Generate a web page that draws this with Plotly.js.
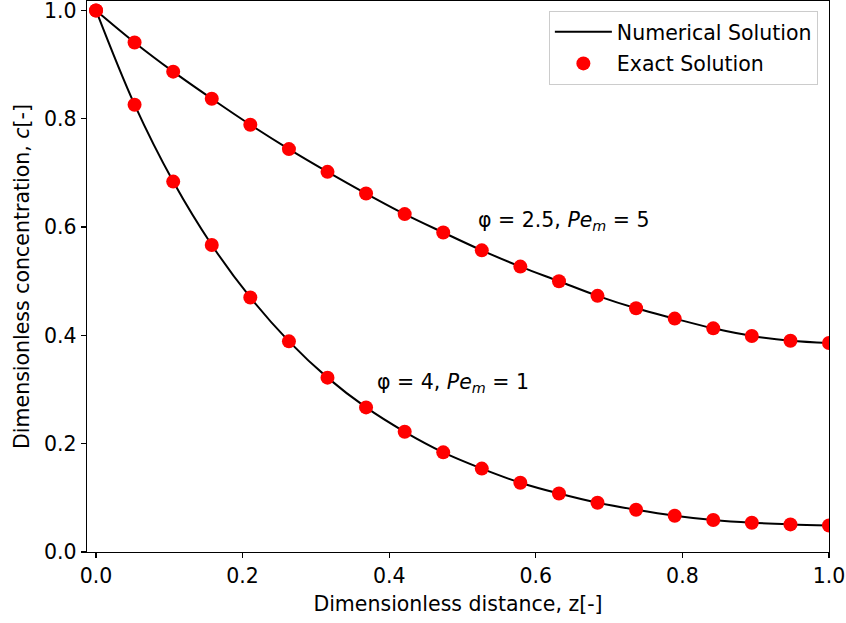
<!DOCTYPE html>
<html>
<head>
<meta charset="utf-8">
<script src="https://cdn.plot.ly/plotly-3.0.1.min.js"></script>
<style>
  html, body { margin: 0; padding: 0; background: #ffffff; }
  #chart { width: 846px; height: 623px; }
</style>
</head>
<body>
<div id="chart"></div>
<script>
// Dimensionless distance along the reactor, z[-]
const z = [0.0, 0.0526, 0.1053, 0.1579, 0.2105, 0.2632, 0.3158, 0.3684, 0.4211, 0.4737,
           0.5263, 0.5789, 0.6316, 0.6842, 0.7368, 0.7895, 0.8421, 0.8947, 0.9474, 1.0];

// Concentration profile for phi = 2.5, Pe_m = 5
const cCaseA = [1.000, 0.941, 0.887, 0.837, 0.789, 0.744, 0.702, 0.662, 0.624, 0.590,
                0.557, 0.527, 0.500, 0.473, 0.450, 0.431, 0.413, 0.399, 0.390, 0.386];

// Concentration profile for phi = 4, Pe_m = 1
const cCaseB = [1.000, 0.826, 0.684, 0.567, 0.470, 0.389, 0.322, 0.267, 0.222, 0.184,
                0.154, 0.128, 0.108, 0.091, 0.078, 0.067, 0.059, 0.054, 0.051, 0.049];

const caseLabels = ['φ = 2.5, <i>Pe<sub>m</sub></i> = 5', 'φ = 4, <i>Pe<sub>m</sub></i> = 1'];
const caseLabelPos = [[0.518, 0.612], [0.381, 0.312]];
const seriesNames = ['Numerical Solution', 'Exact Solution'];
const xTicks = [0.0, 0.2, 0.4, 0.6, 0.8, 1.0];
const yTicks = [0.0, 0.2, 0.4, 0.6, 0.8, 1.0];

const FONT = 'DejaVu Sans, sans-serif';
const FS = 20.5;

function lineTrace(y, show) {
  return {
    x: z, y: y, type: 'scatter', mode: 'lines',
    name: seriesNames[0], legendgroup: 'num', showlegend: show,
    line: { color: '#000000', width: 2, shape: 'spline', smoothing: 1 },
    hoverinfo: 'skip'
  };
}
function pointTrace(y, show) {
  return {
    x: z, y: y, type: 'scatter', mode: 'markers',
    name: seriesNames[1], legendgroup: 'exact', showlegend: show,
    marker: { color: '#ff0000', size: 14, line: { width: 0 } }
  };
}

const data = [
  lineTrace(cCaseA, true),
  lineTrace(cCaseB, false),
  pointTrace(cCaseA, true),
  pointTrace(cCaseB, false)
];

const axisCommon = {
  showgrid: false, zeroline: false,
  showline: true, linecolor: '#000000', linewidth: 1.3, mirror: true,
  ticks: 'outside', ticklen: 5, tickwidth: 1.2, tickcolor: '#000000',
  tickfont: { family: FONT, size: FS, color: '#000000' },
  tickformat: '.1f',
  ticklabeloverflow: 'allow'
};

const layout = {
  width: 846, height: 623,
  paper_bgcolor: '#ffffff', plot_bgcolor: '#ffffff',
  margin: { l: 87, r: 17, t: 1, b: 71 },
  font: { family: FONT, size: FS, color: '#000000' },
  xaxis: Object.assign({}, axisCommon, {
    range: [-0.0123, 1.0],
    tickvals: xTicks,
    title: { text: 'Dimensionless distance, z[-]', font: { family: FONT, size: FS }, standoff: 9 }
  }),
  yaxis: Object.assign({}, axisCommon, {
    range: [0, 1.0175],
    tickvals: yTicks,
    title: { text: 'Dimensionless concentration, <i>c</i>[-]', font: { family: FONT, size: FS }, standoff: 8 }
  }),
  legend: {
    x: 0.985, xanchor: 'right', y: 0.982, yanchor: 'top',
    bgcolor: 'rgba(255,255,255,0.8)', bordercolor: '#cccccc', borderwidth: 1,
    font: { family: FONT, size: FS, color: '#000000' },
    traceorder: 'grouped', tracegroupgap: 2, itemwidth: 57
  },
  annotations: caseLabels.map((t, i) => ({
    x: caseLabelPos[i][0], y: caseLabelPos[i][1], xref: 'x', yref: 'y',
    xanchor: 'left', yanchor: 'middle', showarrow: false, text: t,
    font: { family: FONT, size: FS, color: '#000000' }
  }))
};

Plotly.newPlot('chart', data, layout, { displayModeBar: false, staticPlot: true });
</script>
</body>
</html>
